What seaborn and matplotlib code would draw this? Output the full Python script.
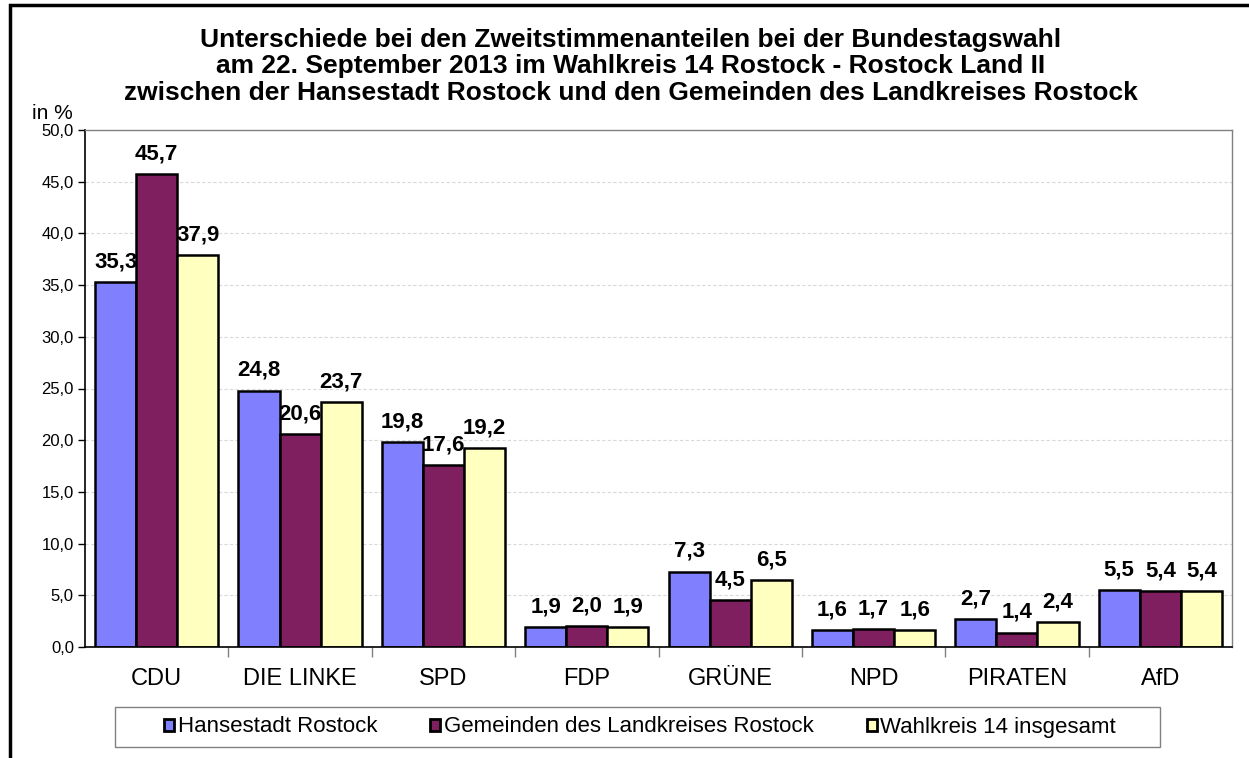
import pandas as pd
import matplotlib
matplotlib.use("Agg")
import matplotlib.pyplot as plt
from matplotlib.patches import Patch, Rectangle
from matplotlib.ticker import FuncFormatter, FixedLocator
import seaborn as sns

# Zweitstimmenanteile in %
parteien = ["CDU", "DIE LINKE", "SPD", "FDP", "GRÜNE", "NPD", "PIRATEN", "AfD"]
gebiete = ["Hansestadt Rostock", "Gemeinden des Landkreises Rostock", "Wahlkreis 14 insgesamt"]
hro = [35.3, 24.8, 19.8, 1.9, 7.3, 1.6, 2.7, 5.5]
lk = [45.7, 20.6, 17.6, 2.0, 4.5, 1.7, 1.4, 5.4]
wk = [37.9, 23.7, 19.2, 1.9, 6.5, 1.6, 2.4, 5.4]
farben = ["#8080FF", "#7F1F5F", "#FFFFC0"]

df = pd.DataFrame({
    "Partei": parteien * 3,
    "Anteil": hro + lk + wk,
    "Gebiet": [g for g in gebiete for _ in parteien],
})

sns.set_theme(style="white")
plt.rcParams["font.family"] = ["Liberation Sans", "DejaVu Sans"]
plt.rcParams["text.color"] = "black"
plt.rcParams["xtick.color"] = "black"
plt.rcParams["ytick.color"] = "black"

fig = plt.figure(figsize=(12.49, 7.58), dpi=100)
ax = fig.add_axes([85 / 1249, 1 - 647 / 758, (1232 - 85) / 1249, (647 - 130) / 758])

sns.barplot(data=df, x="Partei", y="Anteil", hue="Gebiet", palette=farben,
            width=0.86, edgecolor="black", linewidth=1.8, saturation=1,
            legend=False, ax=ax)

# Datenbeschriftung
for cont in ax.containers:
    ax.bar_label(cont, labels=[f"{b.get_height():.1f}".replace(".", ",") for b in cont],
                 padding=7, fontsize=16, fontweight="bold", color="black")

ax.set_ylim(0, 50)
ax.set_xlim(-0.5, len(parteien) - 0.5)
ax.set_yticks(range(0, 51, 5))
ax.yaxis.set_major_formatter(FuncFormatter(lambda v, p: f"{v:.1f}".replace(".", ",")))
ax.tick_params(axis="y", labelsize=12, length=5, width=1, color="black", left=True, pad=3)
ax.tick_params(axis="x", which="major", labelsize=17, length=0, pad=15)
ax.xaxis.set_minor_locator(FixedLocator([i + 0.5 for i in range(len(parteien) - 1)]))
ax.tick_params(axis="x", which="minor", length=7, width=1, color="#808080", bottom=True, direction="out")
ax.set_xlabel("")
ax.set_ylabel("")

for v in range(5, 50, 5):
    ax.axhline(v, color="#D9D9D9", lw=0.8, ls=(0, (3, 2)), zorder=0)
ax.set_axisbelow(True)

for s in ["top", "right"]:
    ax.spines[s].set_color("#808080")
    ax.spines[s].set_linewidth(1)
for s in ["left", "bottom"]:
    ax.spines[s].set_color("black")
    ax.spines[s].set_linewidth(1.2)

# Titel
fig.text(0.505, 1 - 28 / 758,
         "Unterschiede bei den Zweitstimmenanteilen bei der Bundestagswahl\n"
         "am 22. September 2013 im Wahlkreis 14 Rostock - Rostock Land II\n"
         "zwischen der Hansestadt Rostock und den Gemeinden des Landkreises Rostock",
         ha="center", va="top", fontsize=19, fontweight="bold", linespacing=1.13)
fig.text(32 / 1249, 1 - 119 / 758, "in %", ha="left", va="baseline", fontsize=15)

# Legende (Rahmen separat wie im Original)
handles = [Patch(facecolor=c, edgecolor="black", linewidth=2) for c in farben]
fig.legend(handles, gebiete, loc="center", bbox_to_anchor=(640 / 1249, 1 - 727 / 758),
           ncol=3, fontsize=16, frameon=False,
           handlelength=0.45, handleheight=0.45, handletextpad=0.15, columnspacing=2.4,
           borderpad=0, borderaxespad=0)
fig.patches.append(Rectangle((115 / 1249, 1 - 747 / 758), (1160 - 115) / 1249, 40 / 758,
                             transform=fig.transFigure, fill=False, edgecolor="#808080", linewidth=1))

# Rahmen um die Grafik
fig.patches.append(Rectangle((10 / 1249, -0.1), 1.2, 1 - 5 / 758 + 0.1, transform=fig.transFigure,
                             fill=False, edgecolor="black", linewidth=2.5))

fig.savefig("out.png", dpi=100)
